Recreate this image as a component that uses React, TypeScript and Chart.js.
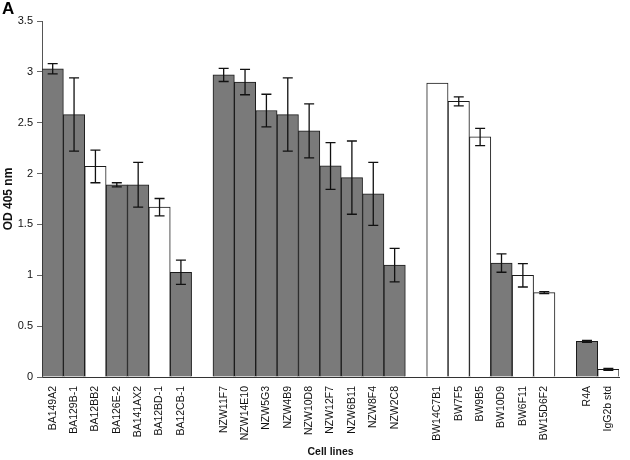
import React, { useEffect, useRef } from "react";
import { Chart, registerables } from "chart.js";

Chart.register(...registerables);

const categories: string[] = [
  "BA149A2", "BA129B-1", "BA12BB2", "BA126E-2", "BA141AX2", "BA12BD-1", "BA12CB-1", "",
  "NZW11F7", "NZW14E10", "NZW5G3", "NZW4B9", "NZW10D8", "NZW12F7", "NZW6B11", "NZW8F4", "NZW2C8", "",
  "BW14C7B1", "BW7F5", "BW9B5", "BW10D9", "BW6F11", "BW15D6F2", "",
  "R4A", "IgG2b std",
];

const odValues: (number | null)[] = [
  3.03, 2.58, 2.07, 1.89, 1.89, 1.67, 1.03, null,
  2.97, 2.9, 2.62, 2.58, 2.42, 2.075, 1.96, 1.8, 1.1, null,
  2.89, 2.71, 2.36, 1.12, 1.0, 0.83, null,
  0.35, 0.075,
];

const odErrors: number[] = [
  0.05, 0.36, 0.16, 0.02, 0.22, 0.085, 0.12, 0,
  0.065, 0.125, 0.16, 0.36, 0.265, 0.23, 0.36, 0.31, 0.165, 0,
  0, 0.045, 0.085, 0.09, 0.115, 0.01, 0,
  0.01, 0.01,
];

const shaded: boolean[] = [
  true, true, false, true, true, false, true, false,
  true, true, true, true, true, true, true, true, true, false,
  false, false, false, true, false, false, false,
  true, false,
];

const yTickLabels: string[] = ["0", "0.5", "1", "1.5", "2", "2.5", "3", "3.5"];

const FONT = "'Liberation Sans', Arial, Helvetica, sans-serif";

const errorBarPlugin = {
  id: "errorBars",
  afterDatasetsDraw(chart: any) {
    const ctx = chart.ctx;
    const meta = chart.getDatasetMeta(0);
    const yScale = chart.scales.y;
    ctx.save();
    ctx.strokeStyle = "#111";
    ctx.lineWidth = 1.3;
    meta.data.forEach((bar: any, i: number) => {
      const v = odValues[i];
      const e = odErrors[i];
      if (v == null || !e) return;
      const x = bar.x;
      const yTop = yScale.getPixelForValue(v + e);
      const yBot = yScale.getPixelForValue(v - e);
      const cap = 5;
      ctx.beginPath();
      ctx.moveTo(x, yTop);
      ctx.lineTo(x, yBot);
      ctx.moveTo(x - cap, yTop);
      ctx.lineTo(x + cap, yTop);
      ctx.moveTo(x - cap, yBot);
      ctx.lineTo(x + cap, yBot);
      ctx.stroke();
    });
    ctx.restore();
  },
};

const panelLetterPlugin = {
  id: "panelLetter",
  afterDraw(chart: any) {
    const ctx = chart.ctx;
    ctx.save();
    ctx.fillStyle = "#000";
    ctx.font = `bold 17px ${FONT}`;
    ctx.textBaseline = "top";
    ctx.textAlign = "left";
    ctx.fillText("A", 2, 1);
    ctx.restore();
  },
};

export default function App() {
  const canvasRef = useRef<HTMLCanvasElement | null>(null);

  useEffect(() => {
    document.body.style.margin = "0";
    const canvas = canvasRef.current;
    if (!canvas) return;
    const chart = new Chart(canvas, {
      type: "bar",
      data: {
        labels: categories,
        datasets: [
          {
            data: odValues as any,
            backgroundColor: shaded.map((s) => (s ? "#7a7a7a" : "#ffffff")),
            borderColor: "#1a1a1a",
            borderWidth: 1,
            barPercentage: 1,
            categoryPercentage: 1,
          },
        ],
      },
      options: {
        animation: false,
        responsive: false,
        maintainAspectRatio: false,
        layout: { padding: { top: 21, right: 2, left: 0, bottom: 0 } },
        plugins: {
          legend: { display: false },
          tooltip: { enabled: false },
        },
        scales: {
          x: {
            grid: { display: false, drawTicks: false },
            border: { display: true, color: "#333", width: 1 },
            ticks: {
              autoSkip: false,
              minRotation: 90,
              maxRotation: 90,
              padding: 9,
              color: "#111",
              font: { family: FONT, size: 10.5 },
            },
            title: {
              display: true,
              text: "Cell lines",
              color: "#111",
              font: { family: FONT, size: 10.5, weight: "bold" },
              padding: { top: 2, bottom: 2 },
            },
            afterFit(scale: any) {
              scale.height = 83;
            },
          },
          y: {
            min: 0,
            max: 3.5,
            ticks: {
              stepSize: 0.5,
              padding: 4,
              color: "#111",
              font: { family: FONT, size: 11 },
              callback: (_v: any, i: number) => yTickLabels[i],
            },
            grid: {
              display: true,
              drawOnChartArea: false,
              drawTicks: true,
              tickLength: 5,
              color: "#666",
            },
            border: { display: true, color: "#555", width: 1 },
            title: {
              display: true,
              text: "OD 405 nm",
              color: "#111",
              font: { family: FONT, size: 12, weight: "bold" },
              padding: { top: 1, bottom: 1 },
            },
            afterFit(scale: any) {
              scale.width = 42;
            },
          },
        },
      },
      plugins: [errorBarPlugin, panelLetterPlugin],
    });
    return () => chart.destroy();
  }, []);

  return (
    <div style={{ width: 630, height: 460 }}>
      <canvas ref={canvasRef} width={630} height={460} style={{ display: "block" }} />
    </div>
  );
}
